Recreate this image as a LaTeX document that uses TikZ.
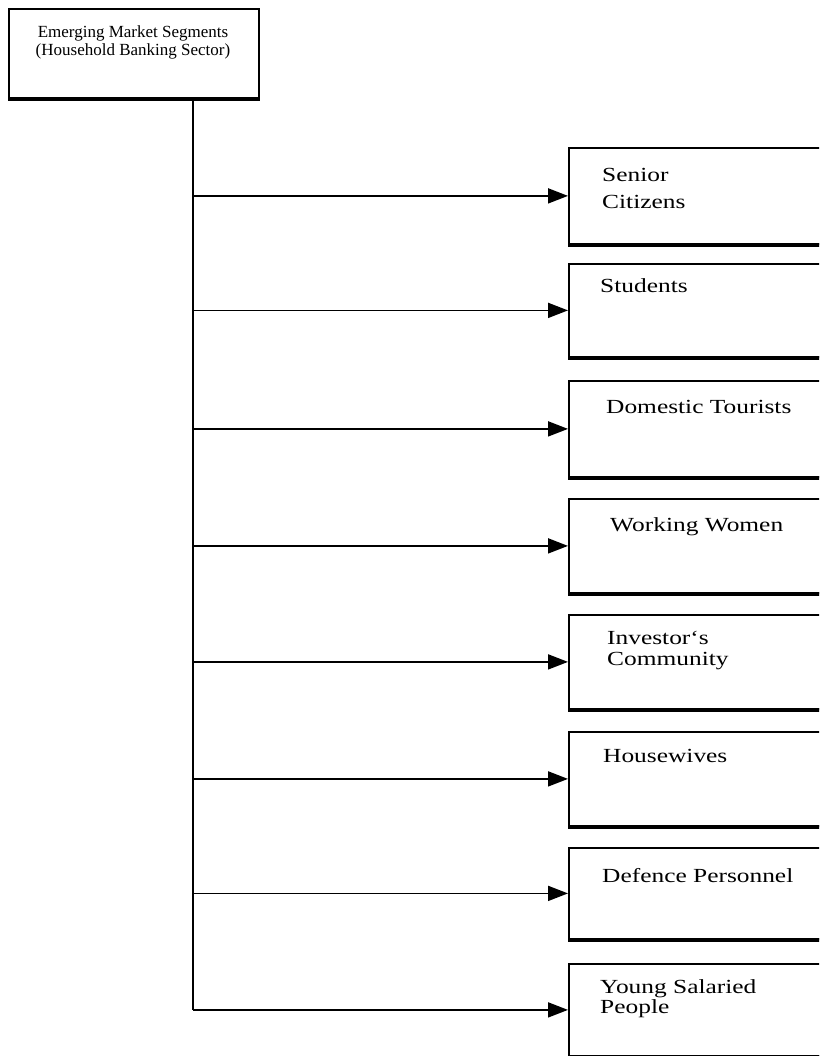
\documentclass[tikz,border=0pt]{standalone}
\usepackage{fontspec}
\setmainfont{Liberation Serif}[FakeStretch=1.27]
\newfontfamily\headfont{Liberation Serif}
\usetikzlibrary{arrows.meta}
\begin{document}
\begin{tikzpicture}[x=1pt,y=-1pt,
  segbox/.style={draw, line width=1.8pt, anchor=north west, minimum width=270pt, inner sep=0pt},
  seglabel/.style={anchor=base west, inner sep=0pt, font=\fontsize{20}{21}\selectfont},
  headlabel/.style={anchor=base, inner sep=0pt, font=\headfont\fontsize{17}{18}\selectfont},
  feed/.style={line width=1.8pt, -{Triangle[length=20pt,width=15pt]}},
  trunk/.style={line width=1.8pt},
  shade/.style={line width=3.8pt}]
\useasboundingbox (0,0) rectangle (819,1056);
\clip (0,0) rectangle (819,1056);

% root box
\node[segbox, minimum width=250pt, minimum height=89pt] (root) at (8,8) {};
\draw[shade] (root.south west) -- (root.south east);
\node[headlabel] (rootA) at (133,38) {Emerging Market Segments};
\node[headlabel] (rootB) at (133,56) {(Household Banking Sector)};

% segment boxes
\node[segbox, minimum height=96pt] (s1) at (568,147) {};
\node[segbox, minimum height=93pt] (s2) at (568,263) {};
\node[segbox, minimum height=96pt] (s3) at (568,380) {};
\node[segbox, minimum height=94pt] (s4) at (568,498) {};
\node[segbox, minimum height=94pt] (s5) at (568,614) {};
\node[segbox, minimum height=94pt] (s6) at (568,731) {};
\node[segbox, minimum height=91pt] (s7) at (568,847) {};
\node[segbox, minimum height=92pt] (s8) at (568,963) {};
\foreach \b in {s1,s2,s3,s4,s5,s6,s7,s8}
  \draw[shade] (\b.south west) -- (\b.south east);

% labels
\node[seglabel] (t1a) at (602,182) {Senior};
\node[seglabel] (t1b) at (602,209) {Citizens};
\node[seglabel] (t2)  at (600,293) {Students};
\node[seglabel] (t3)  at (606,413) {Domestic Tourists};
\node[seglabel] (t4)  at (610,531) {Working Women};
\node[seglabel] (t5a) at (607,644) {Investor`s};
\node[seglabel] (t5b) at (607,665) {Community};
\node[seglabel] (t6)  at (603,762) {Housewives};
\node[seglabel] (t7)  at (602,882) {Defence Personnel};
\node[seglabel] (t8a) at (600,993) {Young Salaried};
\node[seglabel] (t8b) at (600,1013) {People};

% trunk and branches
\coordinate (trunktop) at (193,99);
\draw[trunk] (trunktop) -- (trunktop |- s8.west);
\draw[feed] (trunktop |- s8.west) -- (s8.west);
\foreach \b in {s1,s2,s3,s4,s5,s6,s7}
  \draw[feed] (trunktop |- \b.west) -- (\b.west);
\end{tikzpicture}
\end{document}
